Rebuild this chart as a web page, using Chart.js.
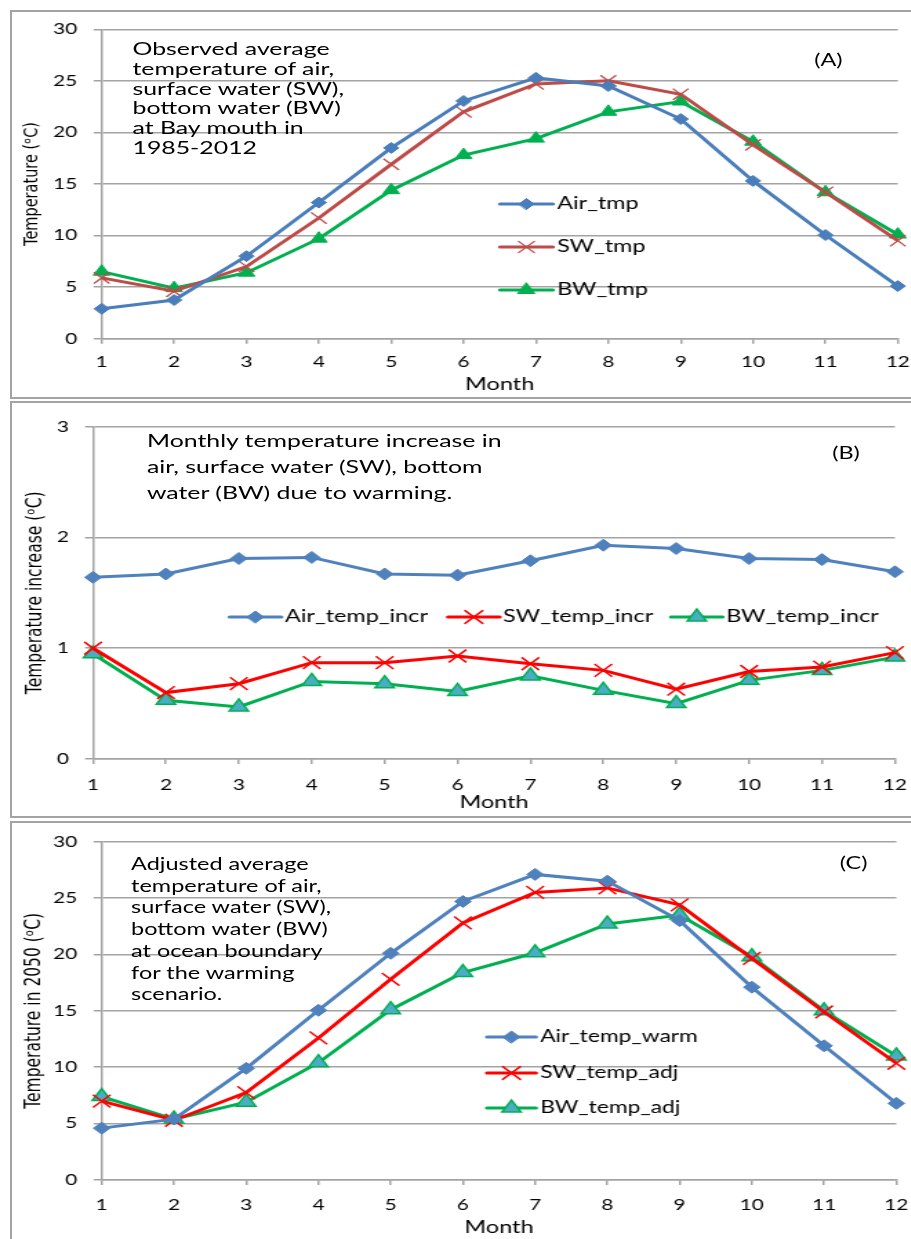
<!DOCTYPE html>
<html lang="en">
<head>
  <meta charset="UTF-8">
  <title>Bay mouth temperatures</title>
  <script src="https://cdn.jsdelivr.net/npm/chart.js"></script>
  <style>
    * {
      margin: 0;
      padding: 0;
      box-sizing: border-box;
    }
    body {
      width: 911px;
      height: 1239px;
      overflow: hidden;
      background: #fff;
      position: relative;
      font-family: Lato, sans-serif;
      color: #000;
    }
    .frame {
      position: absolute;
      left: 10px;
      width: 930px;
      border: 2px solid #a3a3a3;
    }
    /* the whole figure is wider than tall in its text, so the drawing is stretched sideways */
    .panel {
      position: absolute;
      left: 0;
      width: 660px;
      transform: scaleX(1.38);
      transform-origin: 0 0;
    }
    .panel canvas {
      position: absolute;
      left: 0;
      top: 0;
    }
    .note {
      position: absolute;
      white-space: nowrap;
      font-size: 18px;
      line-height: 20px;
    }
  </style>
</head>
<body>
  <div class="frame" style="top:10px;height:389px"></div>
  <div class="frame" style="top:401px;height:417px"></div>
  <div class="frame" style="top:821px;height:440px"></div>

  <div class="panel" style="top:0;height:400px">
    <canvas id="chartA" width="660" height="400"></canvas>
    <div class="note" style="left:96px;top:39px;line-height:19.8px">Observed average<br>temperature of air,<br>surface water (SW),<br>bottom water (BW)<br>at Bay mouth in<br>1985-2012</div>
    <div class="note" style="left:590px;top:50px;font-size:17px">(A)</div>
  </div>

  <div class="panel" style="top:400px;height:420px">
    <canvas id="chartB" width="660" height="420"></canvas>
    <div class="note" style="left:106.5px;top:27px;line-height:26px">Monthly temperature increase in<br>air, surface water (SW), bottom<br>water (BW) due to warming.</div>
    <div class="note" style="left:603px;top:43px;font-size:17px">(B)</div>
  </div>

  <div class="panel" style="top:820px;height:419px">
    <canvas id="chartC" width="660" height="419"></canvas>
    <div class="note" style="left:95px;top:33px;font-size:17px;line-height:21.7px">Adjusted average<br>temperature of air,<br>surface water (SW),<br>bottom water (BW)<br>at ocean boundary<br>for the warming<br>scenario.</div>
    <div class="note" style="left:608.5px;top:33px;font-size:17px">(C)</div>
  </div>

  <script>
    const months = ['1', '2', '3', '4', '5', '6', '7', '8', '9', '10', '11', '12'];

    // (A) observed 1985-2012
    const airTmp = [2.9, 3.75, 8.0, 13.2, 18.5, 23.05, 25.3, 24.5, 21.3, 15.3, 10.05, 5.1];
    const swTmp = [5.9, 4.6, 7.0, 11.7, 16.9, 22.0, 24.7, 25.0, 23.7, 18.8, 14.2, 9.5];
    const bwTmp = [6.5, 4.9, 6.4, 9.7, 14.4, 17.8, 19.4, 22.0, 23.0, 19.1, 14.2, 10.1];

    // (B) increase due to warming
    const airIncr = [1.64, 1.67, 1.81, 1.82, 1.67, 1.66, 1.79, 1.93, 1.90, 1.81, 1.80, 1.69];
    const swIncr = [1.0, 0.60, 0.68, 0.87, 0.87, 0.93, 0.86, 0.80, 0.63, 0.79, 0.83, 0.96];
    const bwIncr = [0.95, 0.53, 0.47, 0.70, 0.68, 0.61, 0.75, 0.62, 0.50, 0.71, 0.80, 0.92];

    // (C) adjusted for 2050
    const airWarm = [4.6, 5.4, 9.9, 15.05, 20.1, 24.7, 27.1, 26.5, 23.0, 17.1, 11.9, 6.8];
    const swAdj = [7.0, 5.3, 7.75, 12.6, 17.8, 22.8, 25.5, 25.9, 24.4, 19.65, 14.9, 10.35];
    const bwAdj = [7.4, 5.4, 6.9, 10.4, 15.1, 18.4, 20.15, 22.7, 23.5, 19.8, 15.0, 11.0];

    const GRID = '#a3a3a3';
    Chart.defaults.font.family = 'Lato';

    // legend drawn inside the plot, one item per dataset
    const insideLegend = {
      id: 'insideLegend',
      afterDraw(chart, args, opts) {
        if (!opts || !opts.items) return;
        const ctx = chart.ctx;
        chart.data.datasets.forEach((ds, i) => {
          const p = opts.items[i];
          ctx.save();
          ctx.strokeStyle = ds.borderColor;
          ctx.lineWidth = ds.borderWidth;
          ctx.lineCap = 'round';
          ctx.beginPath();
          ctx.moveTo(p.x, p.y);
          ctx.lineTo(p.x + opts.lineLength, p.y);
          ctx.stroke();
          ctx.fillStyle = ds.pointBackgroundColor;
          ctx.strokeStyle = ds.pointBorderColor;
          ctx.lineWidth = ds.pointBorderWidth;
          if (Chart.helpers && Chart.helpers.drawPoint) {
            Chart.helpers.drawPoint(ctx, {
              pointStyle: ds.pointStyle,
              radius: ds.pointRadius,
              borderWidth: ds.pointBorderWidth,
              rotation: 0
            }, p.x + opts.lineLength / 2, p.y);
          }
          ctx.fillStyle = '#000';
          ctx.font = opts.font;
          ctx.textBaseline = 'middle';
          ctx.textAlign = 'left';
          ctx.fillText(ds.label, p.x + opts.lineLength + opts.gap, p.y);
          ctx.restore();
        });
      }
    };

    function line(label, data, color, style, radius, fill, border, bw) {
      return {
        label: label,
        data: data,
        borderColor: color,
        backgroundColor: color,
        borderWidth: 3,
        pointStyle: style,
        pointRadius: radius,
        pointBackgroundColor: fill,
        pointBorderColor: border,
        pointBorderWidth: bw,
        tension: 0,
        clip: false
      };
    }

    function makeChart(id, datasets, p) {
      return new Chart(document.getElementById(id), {
        type: 'line',
        data: { labels: months, datasets: datasets },
        options: {
          responsive: false,
          animation: false,
          layout: { padding: { left: 0, top: p.top, right: p.right, bottom: 0 } },
          plugins: {
            legend: { display: false },
            tooltip: { enabled: false },
            insideLegend: p.legend
          },
          scales: {
            x: {
              offset: false,
              grid: { display: true, drawOnChartArea: false, drawTicks: true, tickLength: 5, color: GRID, lineWidth: 1.5 },
              border: { display: true, color: GRID, width: 1.5 },
              ticks: { font: { size: 15 }, color: '#000', padding: p.xTickPad, maxRotation: 0, autoSkip: false },
              title: {
                display: true, text: 'Month', color: '#000',
                font: { size: 17 }, padding: { top: 0, bottom: p.xTitlePad }
              },
              afterFit: s => {
                s.height = p.xHeight;
                // end labels may hang past the plot edge, as in the original
                s.paddingLeft = 0;
                s.paddingRight = 0;
              }
            },
            y: {
              min: p.yMin,
              max: p.yMax,
              ticks: { stepSize: p.yStep, font: { size: 15 }, color: '#000', padding: p.yTickPad },
              grid: { color: GRID, lineWidth: 1.5, tickLength: 5.8 },
              border: { display: true, color: GRID, width: 1.5 },
              title: {
                display: true, text: p.yTitle, color: '#000',
                font: { family: 'DejaVu Sans', size: p.yTitleSize },
                padding: { top: p.yTitlePad, bottom: 0 }
              },
              afterFit: s => { s.width = p.yWidth; }
            }
          }
        },
        plugins: [insideLegend]
      });
    }

    makeChart('chartA', [
      line('Air_tmp', airTmp, '#4A7EBB', 'rectRot', 5.5, '#4A7EBB', '#4A7EBB', 1),
      line('SW_tmp', swTmp, '#BE4B48', 'crossRot', 8, '#BE4B48', '#BE4B48', 1.3),
      line('BW_tmp', bwTmp, '#00B050', 'triangle', 7, '#00B050', '#00B050', 1)
    ], {
      top: 29.3, right: 9.4, xHeight: 61.3, xTickPad: 9.3, xTitlePad: 5,
      yWidth: 73.7, yMin: 0, yMax: 30, yStep: 5, yTickPad: 12,
      yTitle: 'Temperature (ᵒC)', yTitleSize: 14.5, yTitlePad: 14.5,
      legend: {
        lineLength: 38.4, gap: 3, font: '17px Lato',
        items: [{ x: 362.3, y: 204 }, { x: 362.3, y: 247 }, { x: 362.3, y: 290 }]
      }
    });

    makeChart('chartB', [
      line('Air_temp_incr', airIncr, '#4F81BD', 'rectRot', 6, '#4F81BD', '#4F81BD', 1),
      line('SW_temp_incr', swIncr, '#FF0000', 'crossRot', 9, '#FF0000', '#FF0000', 1.5),
      line('BW_temp_incr', bwIncr, '#00B050', 'triangle', 8, '#4BACC6', '#00B050', 1.5)
    ], {
      top: 26.7, right: 11.5, xHeight: 61, xTickPad: 12, xTitlePad: 6.8,
      yWidth: 67.4, yMin: 0, yMax: 3, yStep: 1, yTickPad: 11.6,
      yTitle: 'Temperature increase (ᵒC)', yTitleSize: 15.5, yTitlePad: 16.8,
      legend: {
        lineLength: 37.5, gap: 2.5, font: '17px Lato',
        items: [{ x: 166.4, y: 217 }, { x: 324.6, y: 217 }, { x: 486.2, y: 217 }]
      }
    });

    makeChart('chartC', [
      line('Air_temp_warm', airWarm, '#4F81BD', 'rectRot', 6, '#4F81BD', '#4F81BD', 1),
      line('SW_temp_adj', swAdj, '#FF0000', 'crossRot', 9, '#FF0000', '#FF0000', 1.5),
      line('BW_temp_adj', bwAdj, '#00B050', 'triangle', 8, '#4BACC6', '#00B050', 1.5)
    ], {
      top: 21.7, right: 9.4, xHeight: 59, xTickPad: 11, xTitlePad: 1,
      yWidth: 73.7, yMin: 0, yMax: 30, yStep: 5, yTickPad: 12,
      yTitle: 'Temperature in 2050 (ᵒC)', yTitleSize: 15.5, yTitlePad: 16.1,
      legend: {
        lineLength: 35.5, gap: 3, font: '16.5px Lato',
        items: [{ x: 352.9, y: 217 }, { x: 352.9, y: 253 }, { x: 352.9, y: 288 }]
      }
    });
  </script>
</body>
</html>
